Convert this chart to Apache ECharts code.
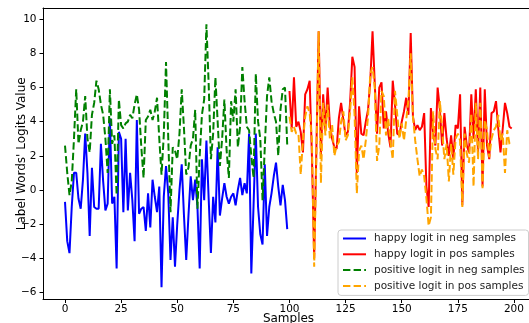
<!DOCTYPE html>
<html>
<head>
<meta charset="utf-8">
<script src="https://cdn.jsdelivr.net/npm/echarts@6/dist/echarts.min.js"></script>
<style>
  html, body { margin: 0; padding: 0; background: #fff; }
  #chart { width: 529px; height: 323px; }
</style>
</head>
<body>
<div id="chart"></div>
<script>
// sample 0..99 are neg samples, 100..199 are pos samples
var happyNeg = [
  -0.7, -3.0, -3.7, -1.0, 1.0, 1.0, -0.5, -1.1, 0.6, 3.3,
  1.0, -2.7, 1.3, -1.0, -1.1, -1.1, 2.7, 0.5, -1.2, -0.8,
  4.2, -0.8, -0.4, -4.6, 3.4, 3.0, -1.3, 3.0, -1.2, 1.0,
  -0.6, -3.0, 4.1, -1.4, -1.1, -1.0, -2.4, -0.2, -2.2, 0.6,
  -0.4, -1.3, 0.2, -5.7, -0.4, 1.4, -0.2, -4.1, -1.6, -4.5,
  -2.0, 0.0, 1.5, -1.5, -4.1, -1.5, 0.8, -0.6, 0.6, -1.0,
  -4.6, 1.8, -0.6, 2.9, -0.5, -3.7, -0.4, -1.9, 2.5, -1.5,
  -0.5, 0.4, -0.4, -0.8, -0.4, -0.2, -0.9, 0.0, 0.7, -0.3,
  0.4, -0.2, 3.3, -4.9, -0.9, 3.3, -1.0, -2.6, -3.2, 1.5,
  -2.7, -1.0, -0.2, 0.8, 1.6, 0.2, -0.9, 0.3, -0.6, -2.3
];
var happyPos = [
  5.8, 3.6, 6.6, 3.7, 4.0, 3.4, 2.2, 5.6, 5.9, 6.4,
  2.0, -4.0, 2.5, 9.3, 2.0, 5.6, 3.5, 6.0, 3.8, 3.0,
  2.5, 2.4, 4.2, 5.1, 4.1, 3.2, 3.4, 5.1, 7.8, 7.2,
  1.0, 4.9, 3.3, 3.2, 4.0, 4.7, 6.4, 9.3, 6.2, 3.3,
  6.0, 6.3, 3.6, 4.6, 3.3, 2.5, 6.4, 5.0, 3.3, 3.2,
  4.0, 4.6, 5.4, 4.4, 9.2, 4.3, 3.5, 3.8, 3.5, 3.7,
  4.5, 0.2, -1.0, 4.8, 3.3, 2.6, 6.0, 4.7, 2.6, 4.5,
  3.0, 2.0, 3.2, 1.8, 3.8, 3.6, 5.6, -0.9, 3.7, 2.6,
  2.2, 5.6, 3.0, 5.9, 2.2, 6.0, 0.2, 5.9, 2.6, 1.8,
  4.5, 4.6, 5.2, 3.6, 2.2, 3.6, 5.1, 4.5, 3.7, 3.6
];
var positiveNeg = [
  2.6, 1.0, -0.3, 0.5, 3.0, 5.9, 2.7, 3.5, 4.0, 5.5,
  3.0, 2.2, 4.4, 5.1, 6.4, 5.9, 5.0, 4.4, 3.0, 1.0,
  5.9, 2.7, 3.2, -0.3, 5.3, 3.8, 3.6, 3.9, 4.0, 4.4,
  4.2, 5.0, 5.6, 4.7, 2.5, 0.7, 4.1, 4.3, 4.7, 4.1,
  4.6, 5.4, 3.0, 0.9, 3.2, 7.5, 3.0, -1.3, 2.5, 2.3,
  1.8, 3.3, 5.9, 3.6, 0.9, 1.3, 2.6, 3.0, 4.7, -1.1,
  2.0, 4.4, 5.3, 9.7, 6.2, 1.8, 3.3, 6.6, 4.0, 1.4,
  3.0, 5.3, 2.3, 0.7, 5.2, 4.0, 5.9, 2.5, 3.7, 7.2,
  5.2, 3.7, 3.5, 2.0, 0.7, 6.8, 4.0, 3.0, -0.6, 2.5,
  5.5, 6.6, 5.2, 4.5, 4.0, 2.0, 4.7, 5.9, 6.0, 2.6
];
var positivePos = [
  4.3, 3.4, 3.7, 3.3, 3.3, 0.9, 2.9, 4.3, 4.9, 4.5,
  2.9, -4.5, 2.0, 9.3, 0.4, 5.1, 3.2, 5.0, 3.0, 3.8,
  2.0, 2.6, 2.8, 4.0, 4.6, 2.9, 3.2, 4.6, 6.6, 4.4,
  -0.2, 2.3, 2.6, 1.8, 2.9, 4.3, 6.8, 7.2, 6.0, 1.7,
  2.6, 5.8, 5.5, 3.2, 4.2, 2.8, 1.8, 5.8, 4.4, 3.0,
  3.9, 2.9, 4.1, 5.3, 8.0, 4.3, 2.9, 1.8, 0.8, 1.2,
  0.8, -0.5, -2.1, -1.6, 4.6, 2.4, 1.8, 5.2, 3.6, 1.8,
  2.7, 0.5, 2.7, 0.9, 3.0, 3.3, 2.9, -1.0, 3.3, 2.1,
  1.6, 4.5, 0.2, 5.1, 1.8, 5.1, 0.1, 4.1, 3.5, 1.9,
  3.0, 3.5, 3.7, 4.4, 2.9, 3.3, 1.0, 3.5, 2.7, 2.6
];
var xTicks = [0, 25, 50, 75, 100, 125, 150, 175, 200];
var yTicks = [-6, -4, -2, 0, 2, 4, 6, 8, 10];
var names = ['happy logit in neg samples', 'happy logit in pos samples',
             'positive logit in neg samples', 'positive logit in pos samples'];

function pairs(vals, start) {
  var out = [];
  for (var i = 0; i < vals.length; i++) out.push([start + i, vals[i]]);
  return out;
}
function minus(v) { return v < 0 ? '\u2212' + (-v) : String(v); }

var chart = echarts.init(document.getElementById('chart'), null, { renderer: 'canvas' });
var font = 'DejaVu Sans';
var option = {
  animation: false,
  grid: { left: 43, right: 0, top: 8, bottom: 23.5, containLabel: false, outerBoundsMode: 'none' },
  legend: {
    orient: 'vertical',
    left: 338, top: 230,
    padding: [3, 4, 4, 4],
    itemWidth: 23, itemHeight: 10, itemGap: 4.8,
    backgroundColor: 'rgba(255,255,255,0.8)',
    borderColor: '#cccccc', borderWidth: 1, borderRadius: 3,
    itemStyle: { opacity: 0 },
    textStyle: { fontFamily: font, fontSize: 10.5, color: '#222', padding: [0, 0, 0, 3] },
    data: names
  },
  xAxis: [{
    type: 'value', min: -9.8, max: 206.7,
    name: 'Samples', nameLocation: 'middle', nameGap: 13, nameMoveOverlap: false,
    nameTextStyle: { fontFamily: font, fontSize: 12, color: '#000', padding: [0, 0, 0, 5] },
    axisLine: { show: true, onZero: false, lineStyle: { color: '#000', width: 1 } },
    axisTick: { show: true, length: 3.5, customValues: xTicks, lineStyle: { color: '#000' } },
    axisLabel: { customValues: xTicks, margin: 4, fontFamily: font, fontSize: 10.5, color: '#000' },
    splitLine: { show: false }
  }, {
    type: 'value', position: 'top', min: -9.8, max: 206.7,
    axisLine: { show: true, onZero: false, lineStyle: { color: '#000', width: 1 } },
    axisTick: { show: false }, axisLabel: { show: false }, splitLine: { show: false }
  }],
  yAxis: {
    type: 'value', min: -6.42, max: 10.66,
    name: "Label Words' Logits Value", nameLocation: 'middle', nameGap: 15, nameRotate: 90,
    nameMoveOverlap: false,
    nameTextStyle: { fontFamily: font, fontSize: 12, color: '#000' },
    axisLine: { show: true, onZero: false, lineStyle: { color: '#000', width: 1 } },
    axisTick: { show: true, length: 3.5, customValues: yTicks, lineStyle: { color: '#000' } },
    axisLabel: { customValues: yTicks, margin: 6.5, fontFamily: font, fontSize: 10.5, color: '#000', formatter: minus },
    splitLine: { show: false }
  },
  series: [
    { name: names[0], type: 'line', data: pairs(happyNeg, 0), symbol: 'none', color: '#0000ff',
      lineStyle: { width: 2, color: '#0000ff' } },
    { name: names[1], type: 'line', data: pairs(happyPos, 100), symbol: 'none', color: '#ff0000',
      lineStyle: { width: 2, color: '#ff0000' } },
    { name: names[2], type: 'line', data: pairs(positiveNeg, 0), symbol: 'none', color: '#008000',
      lineStyle: { width: 2, color: '#008000', type: [7.4, 3.2] } },
    { name: names[3], type: 'line', data: pairs(positivePos, 100), symbol: 'none', color: '#ffa500',
      lineStyle: { width: 2, color: '#ffa500', type: [7.4, 3.2] } }
  ]
};
chart.setOption(option);
</script>
</body>
</html>
